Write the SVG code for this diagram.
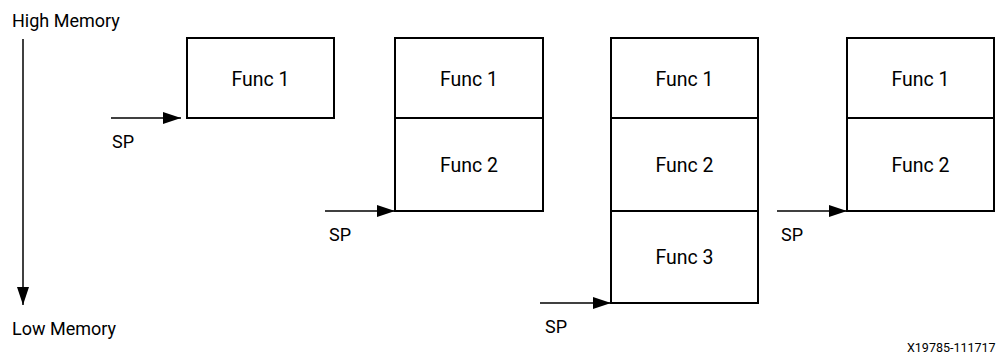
<svg xmlns="http://www.w3.org/2000/svg" width="1000" height="354" viewBox="0 0 1000 354">
<style>
text{font-family:Roboto,"Liberation Sans",sans-serif;fill:#000}
.lbl{font-size:18px}
.fn{font-size:19.5px;text-anchor:middle}
.box{fill:#fff;stroke:#000;stroke-width:2}
.ln{stroke:#000;stroke-width:1.5;fill:none}
.id{font-size:12.5px}
</style>
<defs>
<marker id="ah" markerUnits="userSpaceOnUse" markerWidth="18" markerHeight="12" refX="18" refY="6" orient="auto">
<path d="M0,0 L18,6 L0,12 Z" fill="#000"/>
</marker>
</defs>
<rect width="1000" height="354" fill="#fff"/>
<text class="lbl" x="12" y="27">High Memory</text>
<text class="lbl" x="12" y="335">Low Memory</text>
<g id="connectors">
<line class="ln" x1="111" y1="118" x2="181" y2="118" marker-end="url(#ah)"/>
<line class="ln" x1="23" y1="39" x2="23" y2="305" marker-end="url(#ah)"/>
<line class="ln" x1="325" y1="211" x2="395" y2="211" marker-end="url(#ah)"/>
<line class="ln" x1="540" y1="303" x2="611" y2="303" marker-end="url(#ah)"/>
<line class="ln" x1="777" y1="211" x2="847" y2="211" marker-end="url(#ah)"/>
</g>
<g id="sp-labels">
<text class="lbl" x="112" y="148">SP</text>
<text class="lbl" x="329" y="241">SP</text>
<text class="lbl" x="545" y="333">SP</text>
<text class="lbl" x="781" y="241">SP</text>
</g>
<g id="s1-func1"><rect class="box" x="187" y="38" width="147" height="80"/><text class="fn" x="260.5" y="85.5">Func 1</text></g>
<g id="s2-func1"><rect class="box" x="395" y="38" width="148" height="80"/><text class="fn" x="469" y="85.5">Func 1</text></g>
<g id="s2-func2"><rect class="box" x="395" y="118" width="148" height="93"/><text class="fn" x="469" y="171.5">Func 2</text></g>
<g id="s3-func1"><rect class="box" x="611" y="38" width="147" height="80"/><text class="fn" x="684.5" y="85.5">Func 1</text></g>
<g id="s3-func2"><rect class="box" x="611" y="118" width="147" height="93"/><text class="fn" x="684.5" y="171.5">Func 2</text></g>
<g id="s3-func3"><rect class="box" x="611" y="211" width="147" height="92"/><text class="fn" x="684.5" y="264">Func 3</text></g>
<g id="s4-func1"><rect class="box" x="847" y="38" width="147" height="80"/><text class="fn" x="920.5" y="85.5">Func 1</text></g>
<g id="s4-func2"><rect class="box" x="847" y="118" width="147" height="93"/><text class="fn" x="920.5" y="171.5">Func 2</text></g>
<text class="id" x="907" y="352">X19785-111717</text>
</svg>
